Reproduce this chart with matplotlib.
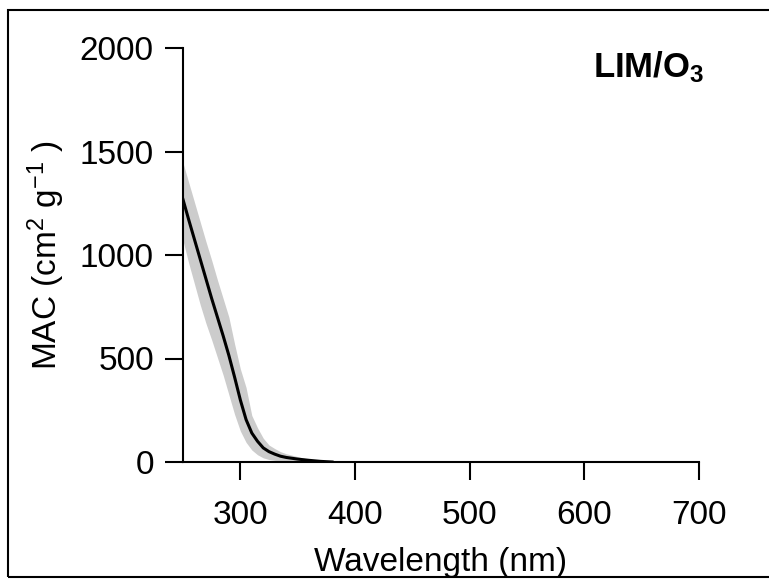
from matplotlib import pyplot
import matplotlib.ticker as ticker
from matplotlib.patches import Rectangle

pyplot.rcParams['font.family'] = ['Liberation Sans', 'DejaVu Sans']
pyplot.rcParams['mathtext.fontset'] = 'custom'
pyplot.rcParams['mathtext.rm'] = 'Liberation Sans'
pyplot.rcParams['mathtext.it'] = 'Liberation Sans'
pyplot.rcParams['mathtext.bf'] = 'Liberation Sans:bold'

# wavelength (nm) and MAC (cm2 g-1)
wavelength = [250, 255, 260, 265, 270, 275, 280, 285, 290, 295, 300, 305, 310,
              315, 320, 325, 330, 335, 340, 350, 360, 370, 380]
mac_mean = [1268, 1170, 1075, 980, 885, 790, 700, 610, 515, 410, 300, 205, 140,
            100, 68, 50, 38, 28, 22, 14, 8, 3, 0]
mac_upper = [1445, 1350, 1255, 1160, 1065, 975, 880, 790, 700, 570, 450, 360, 225,
             165, 115, 82, 65, 50, 40, 26, 12, 5, 2]
mac_lower = [1070, 960, 860, 760, 670, 590, 505, 420, 325, 230, 150, 95, 58,
             35, 20, 12, 8, 5, 4, 2, 0, 0, 0]

x_ticks = [300, 400, 500, 600, 700]
y_ticks = [0, 500, 1000, 1500, 2000]

fig = pyplot.figure(figsize=(7.69, 5.80), dpi=100)
ax = fig.add_axes([183/769, 1 - 462/580, 516/769, 414/580])

ax.fill_between(wavelength, mac_lower, mac_upper, color='#cccccc', linewidth=0)
ax.plot(wavelength, mac_mean, color='black', linewidth=2.2)

ax.set_xlim(250, 700)
ax.set_ylim(0, 2000)
ax.xaxis.set_major_locator(ticker.FixedLocator(x_ticks))
ax.yaxis.set_major_locator(ticker.FixedLocator(y_ticks))

for side in ['top', 'right']:
    ax.spines[side].set_visible(False)
for side in ['left', 'bottom']:
    ax.spines[side].set_linewidth(1.5)

ax.tick_params(direction='out', length=13, width=1.5, labelsize=24)
ax.tick_params(axis='x', pad=14)
ax.tick_params(axis='y', pad=8)

ax.set_xlabel('Wavelength (nm)', fontsize=24, labelpad=12)
ax.set_ylabel(r'MAC (cm$^{2}$ g$^{-1}$ )', fontsize=24)
ax.yaxis.set_label_coords(-0.225, 0.5)

fig.text(593/769, 1 - 77/580, r'LIM/O$_{\mathbf{3}}$', fontsize=25,
         fontweight='bold', ha='left', va='baseline')

# outer frame
fig.patches.append(Rectangle((8/769, 3/580), 1.0, 567/580, transform=fig.transFigure,
                             fill=False, edgecolor='black', linewidth=1.5))

fig.savefig('out.png')
